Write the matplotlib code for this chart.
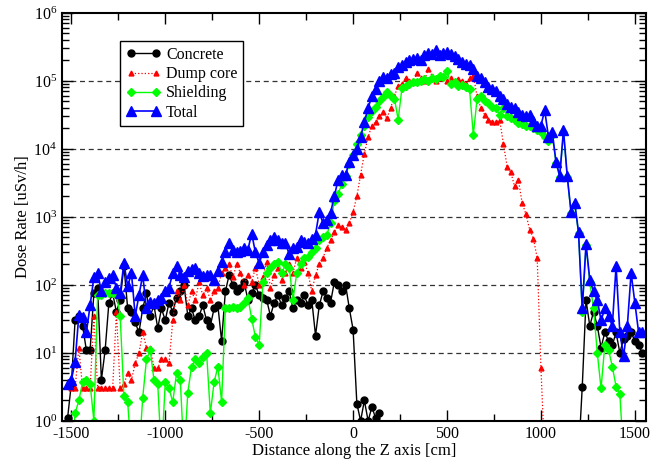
import numpy as np
import matplotlib
matplotlib.use("Agg")
import matplotlib.pyplot as plt
from matplotlib.ticker import LogLocator, MultipleLocator, NullFormatter

plt.rcParams['font.family'] = ['Liberation Serif', 'DejaVu Serif']
plt.rcParams['mathtext.fontset'] = 'custom'
plt.rcParams['mathtext.rm'] = 'Liberation Serif'
plt.rcParams['axes.unicode_minus'] = False

nan = np.nan

# bin centres along z [cm], 20 cm steps from -1520 to 1540
z = np.arange(-1520, 1541, 20)

concrete = [
    1.1, 3.5, 30, 35, 25, 11, 11, 75, 90, 4,
    11, 55, 75, 40, 60, 190, 45, 40, 28, 20,
    45, 75, 35, 50, 23, 45, 30, 55, 40, 65,
    80, 100, 35, 45, 30, 35, 50, 30, 25, 45,
    50, 15, 80, 140, 100, 80, 90, 110, 60, 75,
    100, 70, 65, 60, 35, 55, 70, 50, 65, 80,
    45, 60, 55, 70, 50, 60, 18, 50, 80, 65,
    55, 110, 100, 80, 100, 45, 22, 1.8, 1.0, 2.0,
    1.0, 1.6, 1.1, 1.3, nan, nan, nan, nan, nan, nan,
    nan, nan, nan, nan, nan, nan, nan, nan, nan, nan,
    nan, nan, nan, nan, nan, nan, nan, nan, nan, nan,
    nan, nan, nan, nan, nan, nan, nan, nan, nan, nan,
    nan, nan, nan, nan, nan, nan, nan, nan, nan, nan,
    nan, nan, nan, nan, nan, nan, 0.3, 3.2, 60, 25,
    40, 25, 12, 20, 15, 13, 20, 10, 16, 18,
    20, 15, 13, 10,
]

dump_core = [
    nan, 3, 3, 12, 3, 3, 3, 35, 3, 3,
    3, 3, 3, 40, 3, 3.5, 5, 4, 7, 10,
    20, 12, 12, 6, 6, 8, 8, 7, 30, 80,
    60, 100, 50, 80, 60, 110, 70, 90, 60, 80,
    90, 150, 180, 200, 130, 200, 150, 100, 140, 110,
    180, 100, 130, 220, 90, 140, 180, 120, 150, 200,
    150, 250, 180, 220, 150, 80, 140, 200, 250, 350,
    450, 600, 750, 700, 650, 800, 1200, 2000, 4200, 8500,
    15000, 22000, 25000, 30000, 35000, 28000, 40000, 60000, 85000, 90000,
    110000, 100000, 95000, 130000, 110000, 100000, 150000, 120000, 100000, 110000,
    120000, 100000, 110000, 95000, 105000, 100000, 90000, 110000, 120000, 60000,
    40000, 32000, 27000, 25000, 25000, 27000, 12000, 5500, 4500, 2800,
    3500, 1600, 1100, 650, 480, 250, 6, 0.3, nan, nan,
    nan, nan, nan, nan, nan, nan, nan, nan, nan, nan,
    nan, nan, nan, nan, nan, nan, nan, nan, nan, nan,
    nan, nan, nan, nan,
]

shielding = [
    0.3, 0.3, 1.3, 2.0, 3.7, 4, 3.5, 1.0, 70, 70,
    75, 75, 75, 75, 35, 2.3, 1.9, 0.3, 0.3, 0.3,
    2.2, 8, 11, 4, 3.5, 0.3, 3.7, 3, 1.9, 5,
    4, 0.3, 2.6, 6.3, 8, 7, 8.7, 10, 1.3, 3.7,
    6.3, 1.9, 46, 45, 48, 45, 48, 55, 65, 32,
    17, 13, 110, 150, 180, 200, 220, 150, 200, 180,
    60, 150, 200, 250, 260, 300, 350, 450, 500, 550,
    800, 1700, 2200, 3000, 4000, 6000, 8000, 12000, 16000, 22000,
    29000, 36000, 42000, 50000, 58000, 68000, 60000, 55000, 27000, 78000,
    85000, 90000, 98000, 95000, 100000, 105000, 100000, 110000, 105000, 120000,
    115000, 140000, 90000, 95000, 85000, 88000, 80000, 75000, 16000, 55000,
    60000, 50000, 48000, 42000, 40000, 32000, 40000, 30000, 28000, 27000,
    24000, 23000, 22000, 22000, 20000, 19000, 18000, 15000, 13000, 16000,
    6300, 3800, 18000, 3800, 1150, 1500, 580, 40, 380, 110,
    45, 10, 3, 13, 11, 6.3, 3.2, 2.5, 0.3, nan,
    nan, nan, nan, nan,
]

total = [
    3.5, 4, 7.4, 36, 34, 20, 50, 130, 150, 80,
    110, 125, 140, 90, 75, 210, 95, 150, 35, 70,
    140, 45, 56, 55, 60, 65, 80, 91, 150, 190,
    140, 130, 160, 170, 180, 150, 135, 140, 140, 120,
    160, 220, 300, 420, 330, 300, 310, 350, 330, 570,
    300, 210, 300, 380, 460, 500, 450, 420, 420, 280,
    350, 360, 450, 430, 420, 480, 550, 1200, 800, 900,
    1150, 2000, 3500, 4200, 4200, 6500, 8000, 10000, 15000, 25000,
    40000, 60000, 75000, 100000, 115000, 110000, 125000, 130000, 160000, 170000,
    190000, 200000, 210000, 220000, 200000, 240000, 260000, 250000, 280000, 240000,
    260000, 270000, 250000, 230000, 210000, 190000, 180000, 170000, 150000, 120000,
    110000, 95000, 80000, 75000, 70000, 60000, 55000, 45000, 42000, 40000,
    35000, 32000, 30000, 32000, 26000, 22000, 22000, 37000, 15000, 18000,
    6500, 4000, 19000, 4000, 1200, 1600, 600, 45, 400, 120,
    80, 60, 30, 45, 35, 25, 190, 20, 9, 25,
    150, 55, 20, 20,
]

fig = plt.figure(figsize=(6.52, 4.61), dpi=100)
ax = fig.add_axes([0.095, 0.087, 0.896, 0.885])

ax.plot(z, concrete, color='black', lw=1.0, marker='o', ms=5, label='Concrete')
ax.plot(z, dump_core, color='red', lw=0.9, ls=':', marker='^', ms=3.5, label='Dump core')
ax.plot(z, shielding, color='#00ff00', lw=1.0, marker='D', ms=4.5, label='Shielding')
ax.plot(z, total, color='blue', lw=1.2, marker='^', ms=6.5, label='Total')

ax.set_yscale('log')
ax.set_xlim(-1550, 1560)
ax.set_ylim(1, 1e6)

ax.xaxis.set_major_locator(MultipleLocator(500))
ax.xaxis.set_minor_locator(MultipleLocator(250))
ax.yaxis.set_major_locator(LogLocator(base=10, numticks=10))
ax.yaxis.set_minor_locator(LogLocator(base=10, subs=np.arange(2, 10), numticks=10))
ax.yaxis.set_minor_formatter(NullFormatter())

ax.tick_params(which='both', direction='in', top=True, right=True, labelsize=11.5)
ax.tick_params(which='major', length=8, width=1)
ax.tick_params(which='minor', length=5, width=1)

for s in ax.spines.values():
    s.set_linewidth(1.5)

for yv in [10, 100, 1000, 1e4, 1e5]:
    ax.axhline(yv, color='#333333', ls=(0, (4, 3)), lw=0.9, zorder=0)

ax.set_xlabel('Distance along the Z axis [cm]', fontsize=12, labelpad=1)
ax.set_ylabel('Dose Rate [uSv/h]', fontsize=12, labelpad=2)

leg = ax.legend(loc='upper left', bbox_to_anchor=(0.1, 0.93), fontsize=11.5,
                numpoints=2, handlelength=2.2, handletextpad=0.3,
                labelspacing=0.2, borderpad=0.35, fancybox=False,
                framealpha=1, edgecolor='black', borderaxespad=0)
leg.get_frame().set_linewidth(1.0)

fig.savefig('out.png', dpi=100)
